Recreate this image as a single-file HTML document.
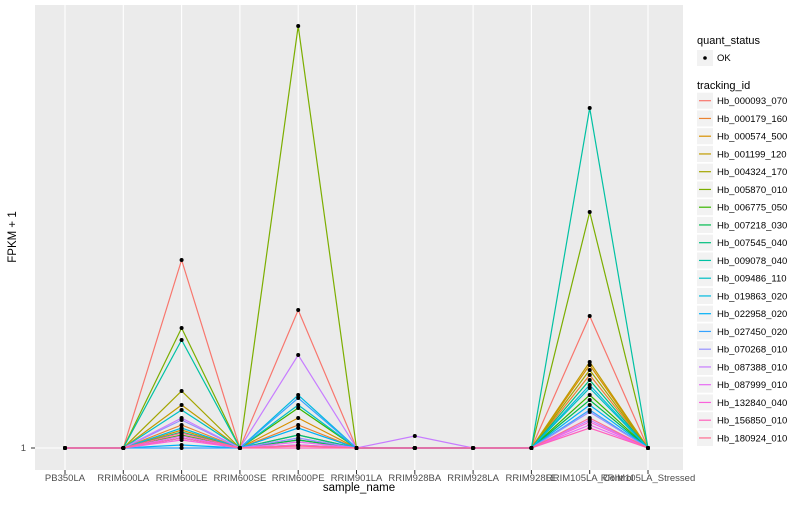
<!DOCTYPE html>
<html><head><meta charset="utf-8"><style>
body{margin:0;background:#fff;font-family:"Liberation Sans",sans-serif}
svg text{font-family:"Liberation Sans",sans-serif}
</style></head><body>
<svg id="chart" width="800" height="500" xmlns="http://www.w3.org/2000/svg">
<rect x="0" y="0" width="800" height="500" fill="#fff"/>
<rect x="35" y="5" width="648" height="465" fill="#EBEBEB"/>
<g id="grid"></g><g id="series"></g><g id="points"></g><g id="xaxis"></g><g id="legend"></g>
<text x="26" y="451" font-size="9.5" fill="#4d4d4d" text-anchor="end">1</text>
<line x1="31" x2="35" y1="448" y2="448" stroke="#333" stroke-width="1"/>
<text x="359" y="491" font-size="11.5" text-anchor="middle" fill="#000">sample_name</text>
<text transform="translate(16,237) rotate(-90)" font-size="11.5" text-anchor="middle" fill="#000">FPKM + 1</text>
</svg>
<script>
const categories=["PB350LA","RRIM600LA","RRIM600LE","RRIM600SE","RRIM600PE","RRIM901LA","RRIM928BA","RRIM928LA","RRIM928LE","RRIM105LA_Control","RRIM105LA_Stressed"];
const seriesNames=["Hb_000093_070","Hb_000179_160","Hb_000574_500","Hb_001199_120","Hb_004324_170","Hb_005870_010","Hb_006775_050","Hb_007218_030","Hb_007545_040","Hb_009078_040","Hb_009486_110","Hb_019863_020","Hb_022958_020","Hb_027450_020","Hb_070268_010","Hb_087388_010","Hb_087999_010","Hb_132840_040","Hb_156850_010","Hb_180924_010"];
const colors=["#F8766D","#EA8331","#D89000","#C09B00","#A3A500","#7CAE00","#39B600","#00BB4E","#00BF7D","#00C1A3","#00BFC4","#00BAE0","#00B0F6","#35A2FF","#9590FF","#C77CFF","#E76BF3","#FA62DB","#FF62BC","#FF6C91"];
const vLE=[19.8,3.3,2.8,5.3,6.7,13,2.3,2.0,2.6,11.8,4.8,3.0,1.3,1,3.8,4.0,2.2,1.8,2.0,2.5];
const vPE=[14.8,3.3,4.0,1.8,2.3,43.2,5.0,1.8,2.3,1.3,5.3,6.3,3.0,6.0,2.0,10.3,1.6,1.3,1,1.2];
const vBA=[1,1,1,1,1,1,1,1,1,1,1,1,1,1,1,2.2,1,1,1,1];
const vCon=[14.2,8.3,9.3,9.6,8.8,24.6,6.3,5.8,7.8,35,7.0,7.3,5.3,4.8,4.6,3.8,3.3,3.6,3.0,4.0];
const NS="http://www.w3.org/2000/svg";
function xs(i){return 65+i*58.3;}
function ys(v){return 448-(v-1)*10;}
function mk(t,a,p){const e=document.createElementNS(NS,t);for(const k in a)e.setAttribute(k,a[k]);p.appendChild(e);return e;}
const grid=document.getElementById('grid'),ser=document.getElementById('series'),pts=document.getElementById('points'),xa=document.getElementById('xaxis'),lg=document.getElementById('legend');
mk('line',{x1:35,x2:683,y1:448,y2:448,stroke:'#fff','stroke-width':1.1},grid);
categories.forEach((c,i)=>{
  mk('line',{x1:xs(i),x2:xs(i),y1:5,y2:470,stroke:'#fff','stroke-width':1.1},grid);
  mk('line',{x1:xs(i),x2:xs(i),y1:470,y2:474,stroke:'#333'},xa);
  const t=mk('text',{x:xs(i),y:481,'font-size':9.5,fill:'#4d4d4d','text-anchor':'middle'},xa);
  
  
  t.textContent=c;
});
seriesNames.forEach((n,s)=>{
  const vals=[1,1,vLE[s],1,vPE[s],1,vBA[s],1,1,vCon[s],1];
  const d=vals.map((v,i)=>(i?'L':'M')+xs(i).toFixed(1)+','+ys(v).toFixed(1)).join(' ');
  const p=mk('path',{d:d,fill:'none',stroke:colors[s],'stroke-width':1.2},ser);
  
  
  vals.forEach((v,i)=>{
    const c=mk('circle',{cx:xs(i),cy:ys(v),r:2,fill:'#000'},pts);
    
    
  });
});
let t=mk('text',{x:697,y:44,'font-size':11},lg);t.textContent='quant_status';


mk('rect',{x:697,y:50,width:16,height:16,fill:'#F2F2F2'},lg);
mk('circle',{cx:705,cy:58,r:1.8,fill:'#000'},lg);
t=mk('text',{x:717,y:61,'font-size':9.5},lg);t.textContent='OK';


t=mk('text',{x:697,y:89,'font-size':11},lg);t.textContent='tracking_id';


seriesNames.forEach((n,s)=>{
  const cy=100.7+s*17.75;
  mk('rect',{x:697,y:cy-8,width:16,height:16,fill:'#F2F2F2'},lg);
  mk('line',{x1:699,x2:711,y1:cy,y2:cy,stroke:colors[s],'stroke-width':1.2},lg);
  const tt=mk('text',{x:717,y:cy+3.3,'font-size':9.5},lg);
  
  
  tt.textContent=n;
});
</script>
</body></html>
